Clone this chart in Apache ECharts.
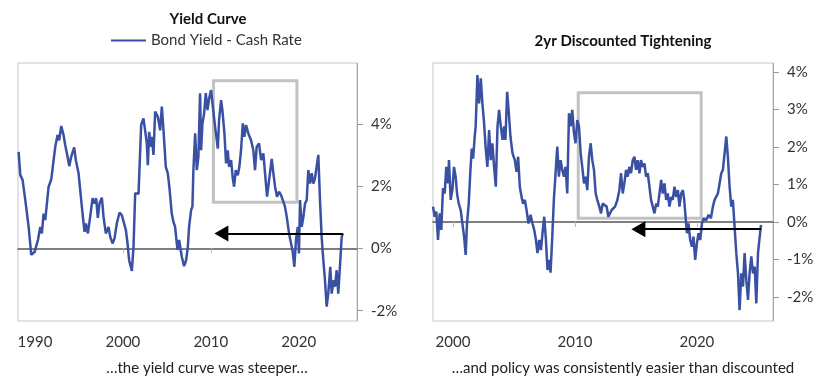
<!DOCTYPE html>
<html><head><meta charset="utf-8">
<script src="https://cdn.jsdelivr.net/npm/echarts@6/dist/echarts.min.js"></script>
<style>html,body{margin:0;padding:0;background:#fff}#c{width:840px;height:389px}</style>
</head><body><div id="c"></div>
<script>
// ---------- data ----------
var leftYears = [1988.14,1988.33,1988.59,1988.90,1989.28,1989.58,1989.96,1990.34,1990.60,1990.79,1990.98,1991.17,1991.55,1991.85,1992.12,1992.31,1992.57,1992.76,1992.99,1993.25,1993.44,1993.71,1993.90,1994.12,1994.46,1994.65,1994.96,1995.26,1995.41,1995.64,1995.79,1996.02,1996.28,1996.55,1996.78,1996.96,1997.15,1997.34,1997.61,1997.80,1998.06,1998.37,1998.56,1998.82,1999.05,1999.31,1999.62,1999.88,2000.07,2000.34,2000.53,2000.71,2001.02,2001.21,2001.40,2001.62,2001.78,2002.08,2002.34,2002.53,2002.72,2002.84,2002.99,2003.18,2003.29,2003.48,2003.67,2003.97,2004.24,2004.43,2004.62,2004.88,2005.11,2005.30,2005.56,2005.75,2005.94,2006.21,2006.40,2006.70,2006.96,2007.19,2007.38,2007.53,2007.76,2007.91,2008.02,2008.22,2008.41,2008.59,2008.78,2008.90,2009.05,2009.24,2009.43,2009.62,2009.81,2010.03,2010.23,2010.49,2010.80,2010.94,2011.17,2011.32,2011.55,2011.74,2011.93,2012.08,2012.31,2012.50,2012.65,2012.84,2013.07,2013.25,2013.44,2013.64,2013.82,2014.01,2014.27,2014.58,2014.84,2015.03,2015.22,2015.49,2015.72,2015.98,2016.17,2016.40,2016.63,2016.93,2017.12,2017.31,2017.53,2017.76,2017.99,2018.25,2018.44,2018.64,2018.90,2019.13,2019.32,2019.50,2019.69,2019.89,2020.03,2020.15,2020.34,2020.53,2020.72,2020.91,2021.09,2021.28,2021.48,2021.66,2021.85,2022.05,2022.23,2022.42,2022.61,2022.80,2022.99,2023.18,2023.36,2023.59,2023.75,2023.98,2024.13,2024.32,2024.50,2024.69,2024.89,2025.03];
var leftValues = [3.10,2.35,2.20,1.55,0.69,-0.21,-0.11,0.27,0.69,0.48,1.12,0.91,1.98,2.21,2.83,3.26,3.64,3.47,3.93,3.64,3.32,2.94,2.64,2.94,3.24,2.83,2.41,1.55,1.12,0.53,0.80,0.48,1.01,1.61,1.44,1.61,0.98,1.44,1.63,1.01,0.48,0.69,0.37,0.16,0.32,0.80,1.15,1.07,1.01,0.59,0.16,-0.38,-0.72,0.05,1.77,1.82,1.75,3.96,4.17,3.79,3.37,2.67,3.74,3.26,3.58,3.00,4.39,4.23,3.79,4.55,3.79,2.62,2.41,1.93,1.12,0.85,0.69,-0.05,0.27,-0.27,-0.57,-0.38,0.02,0.69,1.23,1.34,2.51,3.69,2.51,2.94,4.98,3.15,4.01,4.33,4.98,4.44,4.81,5.08,4.55,3.90,3.20,4.12,4.76,4.44,3.69,2.73,3.15,2.62,2.83,2.25,1.98,2.51,2.35,2.62,3.15,4.01,3.58,3.96,3.69,3.47,3.15,2.51,3.26,3.37,2.83,3.05,2.41,1.66,2.19,2.87,2.41,1.98,1.66,1.82,1.71,1.50,1.34,1.01,0.48,0.16,-0.11,-0.59,0.27,0.69,-0.16,1.55,0.69,1.01,1.44,1.55,2.51,2.08,2.41,2.08,2.25,2.19,3.00,1.55,0.37,-0.38,-1.02,-1.87,-1.45,-0.59,-1.45,-1.02,-1.23,-0.70,-1.45,-0.59,0.37,0.48];

var rightYears = [1998.36,1998.50,1998.63,1998.77,1998.91,1999.04,1999.18,1999.32,1999.45,1999.59,1999.67,1999.81,1999.95,2000.08,2000.22,2000.33,2000.47,2000.63,2000.77,2000.91,2001.04,2001.15,2001.29,2001.43,2001.54,2001.65,2001.78,2001.86,2002.00,2002.14,2002.28,2002.41,2002.55,2002.69,2002.82,2002.96,2003.10,2003.23,2003.37,2003.51,2003.65,2003.78,2003.92,2004.06,2004.19,2004.30,2004.44,2004.58,2004.71,2004.88,2005.07,2005.21,2005.34,2005.48,2005.62,2005.75,2005.89,2006.03,2006.19,2006.36,2006.52,2006.66,2006.80,2006.93,2007.07,2007.21,2007.34,2007.48,2007.62,2007.75,2007.89,2008.00,2008.14,2008.27,2008.41,2008.55,2008.68,2008.82,2008.96,2009.10,2009.23,2009.37,2009.51,2009.64,2009.78,2009.92,2010.05,2010.19,2010.33,2010.47,2010.60,2010.74,2010.88,2011.01,2011.15,2011.29,2011.42,2011.56,2011.70,2011.83,2012.00,2012.14,2012.27,2012.60,2012.74,2013.01,2013.29,2013.48,2013.64,2013.78,2013.92,2014.05,2014.19,2014.33,2014.46,2014.60,2014.74,2014.88,2015.01,2015.15,2015.29,2015.42,2015.56,2015.70,2015.83,2015.97,2016.11,2016.24,2016.38,2016.52,2016.66,2016.79,2016.93,2017.07,2017.20,2017.34,2017.48,2017.61,2017.75,2017.89,2018.02,2018.16,2018.30,2018.44,2018.57,2018.71,2018.85,2018.96,2019.07,2019.18,2019.31,2019.45,2019.59,2019.72,2019.86,2020.00,2020.13,2020.27,2020.41,2020.55,2020.76,2020.96,2021.15,2021.31,2021.45,2021.59,2021.72,2021.86,2022.00,2022.13,2022.27,2022.41,2022.54,2022.68,2022.82,2022.95,2023.09,2023.23,2023.37,2023.50,2023.64,2023.78,2023.91,2024.05,2024.19,2024.32,2024.46,2024.60,2024.74,2024.87,2025.01,2025.15,2025.26];
var rightValues = [0.41,0.14,0.28,-0.48,0.23,-0.21,0.90,0.76,1.47,1.03,1.65,0.59,0.85,1.47,1.20,0.76,0.49,0.32,-0.04,-0.39,-0.88,-0.04,0.49,1.39,1.96,1.69,2.28,2.55,3.92,3.16,3.83,3.16,2.63,1.92,1.47,2.45,1.65,2.10,1.47,0.94,2.55,2.99,2.55,2.19,2.55,2.19,3.47,2.90,2.28,1.83,1.65,1.34,1.74,0.94,0.67,0.49,0.59,0.32,-0.04,0.19,-0.04,-0.21,-0.48,-0.83,-0.48,-0.75,-0.30,0.14,-0.48,-1.28,-1.01,-1.35,-0.39,0.59,1.30,2.01,1.21,1.65,1.39,1.21,1.47,0.76,2.90,2.55,2.99,2.37,2.10,2.72,2.55,1.83,1.47,1.03,1.21,0.85,1.74,2.10,1.65,1.39,0.76,0.59,0.41,0.23,0.49,0.41,0.14,0.32,0.41,0.59,0.85,1.30,0.76,1.03,1.39,1.21,1.47,1.30,1.65,1.74,1.39,1.65,1.30,1.65,1.47,1.56,1.21,1.30,0.94,0.59,0.41,0.23,0.49,0.41,0.76,1.12,0.76,1.03,0.59,0.76,0.41,0.67,0.59,0.94,0.67,0.85,0.41,0.76,0.85,0.59,0.14,-0.30,-0.04,-0.48,-0.66,-0.39,-1.01,-0.57,-0.30,-0.48,-0.04,0.10,0.05,0.19,0.10,0.41,0.59,0.54,0.76,0.76,1.30,1.39,1.83,2.28,1.74,0.94,0.41,0.59,-0.13,-0.83,-1.37,-2.35,-1.37,-1.72,-0.83,-1.55,-2.08,-1.37,-0.92,-1.37,-1.19,-2.17,-0.83,-0.39,-0.08];

var leftXTicks = [1990, 2000, 2010, 2020];
var rightXTicks = [2000, 2010, 2020];
var leftYTicks = [-2, 0, 2, 4];
var rightYTicks = [-2, -1, 0, 1, 2, 3, 4];

// annotation boxes [x0, y0, x1, y1] and arrows [fromX, toX, y] in data units
var leftBox = [2010.3, 5.38, 2019.8, 1.48];
var leftArrow = [2025.03, 2011.2, 0.48];
var rightBox = [2010.27, 3.45, 2020.35, 0.10];
var rightArrow = [2025.26, 2015.2, -0.19];

var leftTitle = 'Yield Curve';
var rightTitle = '2yr Discounted Tightening';
var leftSeriesName = 'Bond Yield - Cash Rate';
var rightSeriesName = '2yr Discounted Tightening';
var leftCaption = '\u2026the yield curve was steeper\u2026';
var rightCaption = '\u2026and policy was consistently easier than discounted';

// ---------- chart ----------
var FONT = 'Lato, "Open Sans", sans-serif';
var LINE = '#3a51a3';
function pairs(xs, ys){ return xs.map(function(x,i){ return [x, ys[i]]; }); }

var grids = [
  {left: 18, top: 63, width: 339, height: 258},
  {left: 433, top: 63, width: 340, height: 258}
];
var xr = [[1988.07, 2026.63], [1998.36, 2026.24]];
var yr = [[-2.33, 5.95], [-2.64, 4.24]];
var xt = [leftXTicks, rightXTicks];
var yt = [leftYTicks, rightYTicks];

var xAxes = [], yAxes = [];
[0,1].forEach(function(g){
  xAxes.push({
    gridIndex: g, type: 'value', min: xr[g][0], max: xr[g][1], position: 'bottom',
    axisLine: {show: false, onZero: false}, axisTick: {show: false}, splitLine: {show: false},
    axisLabel: {customValues: xt[g], margin: 14, fontSize: 15, color: '#333', fontFamily: FONT,
      formatter: function(v){ return String(Math.round(v)); }}
  });
  xAxes.push({
    gridIndex: g, type: 'value', min: xr[g][0], max: xr[g][1], position: 'top',
    axisLine: {show: true, onZero: true, lineStyle: {color: '#555', width: 1.5}},
    axisTick: {show: true, inside: true, customValues: xt[g], length: 5, lineStyle: {color: '#bbb'}},
    axisLabel: {show: false}, splitLine: {show: false}
  });
  yAxes.push({
    gridIndex: g, type: 'value', min: yr[g][0], max: yr[g][1], position: 'right',
    axisLine: {show: true, lineStyle: {color: '#a8a8a8', width: 1}}, splitLine: {show: false},
    axisTick: {show: true, customValues: yt[g], length: 6, lineStyle: {color: '#999'}},
    axisLabel: {customValues: yt[g], margin: 14, fontSize: 15, color: '#333', fontFamily: FONT,
      formatter: function(v){ return Math.round(v) + '%'; }}
  });
});

function series(name, g, xs, ys, box, arrow){
  return {
    name: name, type: 'line', xAxisIndex: g*2, yAxisIndex: g, data: pairs(xs, ys),
    showSymbol: false, symbol: 'none', lineStyle: {color: LINE, width: 2.5}, itemStyle: {color: LINE},
    z: 3,
    markArea: {silent: true, itemStyle: {color: 'rgba(0,0,0,0)', borderColor: '#c2c2c2', borderWidth: 3},
      data: [[{xAxis: box[0], yAxis: box[1]}, {xAxis: box[2], yAxis: box[3]}]]},
    markLine: {silent: true, symbol: ['none', 'triangle'], symbolSize: [16, 14],
      label: {show: false}, lineStyle: {color: '#000', width: 2, type: 'solid'},
      emphasis: {disabled: true},
      data: [[{coord: [arrow[0], arrow[2]]}, {coord: [arrow[1], arrow[2]]}]]}
  };
}

var option = {
  animation: false,
  textStyle: {fontFamily: FONT},
  grid: grids.map(function(gr){ return Object.assign({show: true, borderColor: '#c6c6c6', borderWidth: 1, backgroundColor: 'transparent'}, gr); }),
  xAxis: xAxes,
  yAxis: yAxes,
  legend: {data: [{name: leftSeriesName, icon: 'rect'}], left: 111, top: 33, padding: 0,
    itemWidth: 35, itemHeight: 2, textStyle: {fontSize: 15, color: '#333', fontFamily: FONT}},
  series: [
    series(leftSeriesName, 0, leftYears, leftValues, leftBox, leftArrow),
    series(rightSeriesName, 1, rightYears, rightValues, rightBox, rightArrow)
  ],
  graphic: [
    {type: 'text', x: 208, y: 19, style: {text: leftTitle, font: 'bold 15px ' + FONT, fill: '#111', align: 'center', verticalAlign: 'middle'}},
    {type: 'text', x: 623, y: 41, style: {text: rightTitle, font: 'bold 15px ' + FONT, fill: '#111', align: 'center', verticalAlign: 'middle'}},
    {type: 'text', x: 207, y: 368, style: {text: leftCaption, font: '15px ' + FONT, fill: '#222', align: 'center', verticalAlign: 'middle'}},
    {type: 'text', x: 623, y: 368, style: {text: rightCaption, font: '15px ' + FONT, fill: '#222', align: 'center', verticalAlign: 'middle'}}
  ]
};
var chart = echarts.init(document.getElementById('c'), null, {renderer: 'canvas'});
chart.setOption(option);
</script></body></html>
